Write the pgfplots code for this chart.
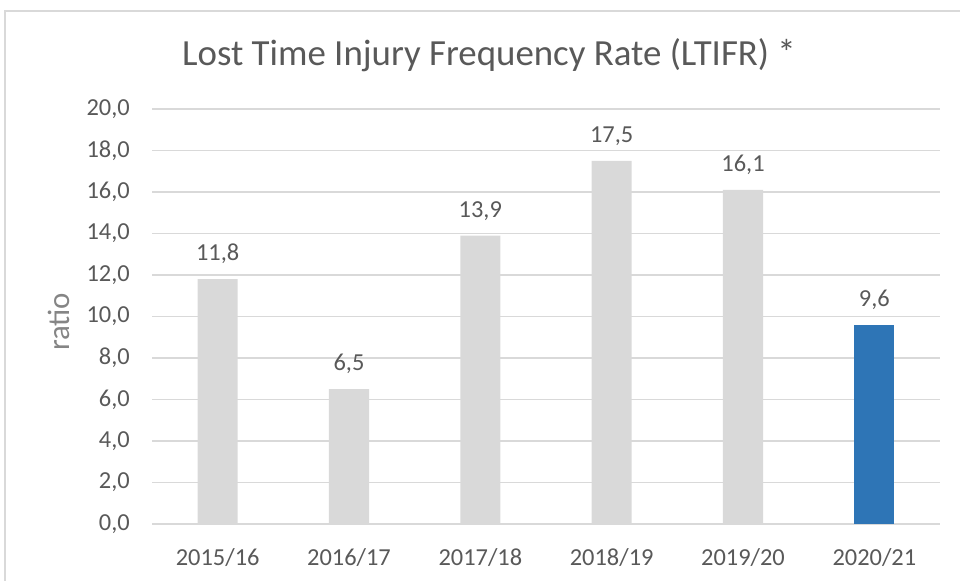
\documentclass[border=0pt]{standalone}
\usepackage{fontspec}
\setmainfont{Carlito}
\usepackage{pgfplots}
\pgfplotsset{compat=1.18}
\definecolor{txt}{HTML}{595959}
\definecolor{txtlight}{HTML}{858585}
\definecolor{gridc}{HTML}{D9D9D9}
\definecolor{bargray}{HTML}{D9D9D9}
\definecolor{barblue}{HTML}{2E75B6}
\begin{document}
\begin{tikzpicture}[x=1bp,y=1bp]
\useasboundingbox (0,0) rectangle (960,581);
\draw[gridc, line width=1.5bp] (5,-5) -- (5,570) -- (970,570);
\node[txt, anchor=base, inner sep=0pt, font=\fontsize{37}{44}\selectfont] at (489,515) {Lost Time Injury Frequency Rate (LTIFR) *};
\begin{axis}[
  at={(152bp,57bp)}, anchor=south west,
  scale only axis, width=788bp, height=415bp,
  xmin=-0.5, xmax=5.5, ymin=0, ymax=20,
  xtick={0,1,2,3,4,5},
  xticklabels={2015/16,2016/17,2017/18,2018/19,2019/20,2020/21},
  ytick={0,2,...,20},
  axis line style={draw=none},
  major tick length=0pt,
  ymajorgrids,
  grid style={gridc, line width=1.3bp},
  /pgf/number format/assume math mode=true,
  tick label style={txt, font=\fontsize{24.5}{29}\selectfont},
  yticklabel={\pgfmathprintnumber[fixed,fixed zerofill,precision=1,use comma]{\tick}},
  yticklabel style={inner sep=0pt, xshift=-22bp},
  xticklabel style={inner sep=0pt, yshift=-24bp},
  ylabel={ratio},
  ylabel style={at={(axis description cs:-0.118,0.487)}, rotate=0, anchor=center, txtlight, font=\fontsize{31}{37}\selectfont},
  nodes near coords={\pgfmathprintnumber[fixed,fixed zerofill,precision=1,use comma]{\pgfplotspointmeta}},
  every node near coord/.append style={txt, font=\fontsize{24.5}{29}\selectfont, inner sep=0pt, yshift=15bp},
  clip=false,
]
\addplot[ybar, bar width=0.305, bar shift=0, fill=bargray, draw=none] coordinates {
  (0,11.8) (1,6.5) (2,13.9) (3,17.5) (4,16.1)
};
\addplot[ybar, bar width=0.305, bar shift=0, fill=barblue, draw=none] coordinates {
  (5,9.6)
};
\end{axis}
\end{tikzpicture}
\end{document}
